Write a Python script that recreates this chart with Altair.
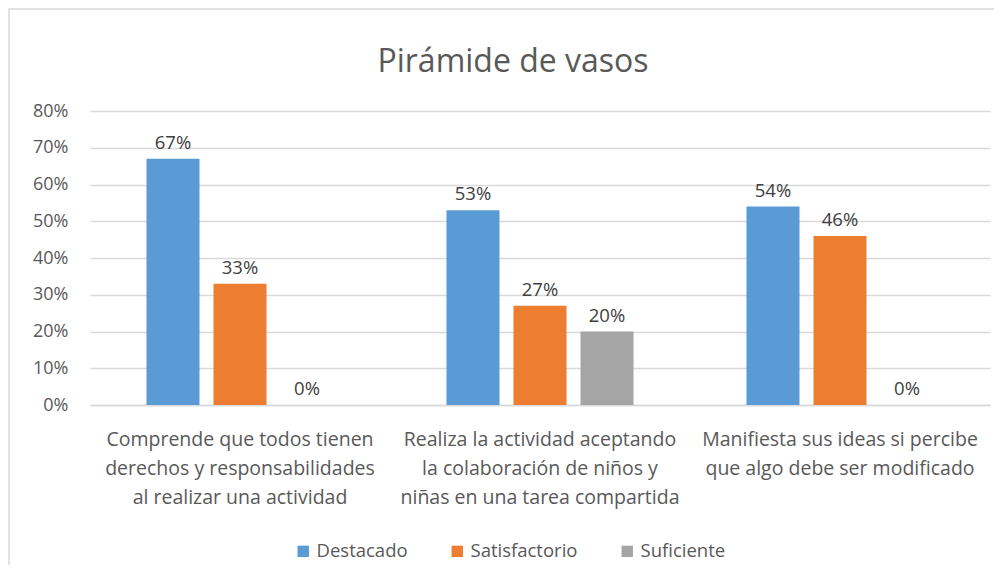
import altair as alt
import pandas as pd

title_text = ["Pirámide de vasos"]
categories = [
    "Comprende que todos tienen|derechos y responsabilidades|al realizar una actividad",
    "Realiza la actividad aceptando|la colaboración de niños y|niñas en una tarea compartida",
    "Manifiesta sus ideas si percibe|que algo debe ser modificado",
]
series = ["Destacado", "Satisfactorio", "Suficiente"]
destacado = [0.67, 0.53, 0.54]
satisfactorio = [0.33, 0.27, 0.46]
suficiente = [0.00, 0.20, 0.00]
y_ticks = [0.0, 0.1, 0.2, 0.3, 0.4, 0.5, 0.6, 0.7, 0.8]
colors = ["#5B9BD5", "#ED7D31", "#A5A5A5"]

rows = []
for i, c in enumerate(categories):
    for s, vals in zip(series, [destacado, satisfactorio, suficiente]):
        rows.append({"cat": c, "serie": s, "valor": vals[i]})
df = pd.DataFrame(rows)

FONT = "Open Sans"
TXT = "#595959"

x = alt.X("cat:N", sort=categories, title=None,
          scale=alt.Scale(paddingInner=0, paddingOuter=0),
          axis=alt.Axis(labelAngle=0, labelExpr="split(datum.label, '|')",
                        labelFontSize=19.5, labelColor=TXT, labelFont=FONT,
                        labelLineHeight=29, labelPadding=25, ticks=False,
                        domainColor="#D9D9D9", domainWidth=1.5, labelLimit=400,
                        labelOverlap=False))
xo = alt.XOffset("serie:N", sort=series,
                 scale=alt.Scale(paddingInner=0.209, paddingOuter=0.843))
y = alt.Y("valor:Q", title=None,
          scale=alt.Scale(domain=[0, 0.8]),
          axis=alt.Axis(format=".0%", values=y_ticks, labelOverlap=False,
                        tickCount=9,
                        labelFontSize=18, labelColor=TXT, labelFont=FONT,
                        labelPadding=22, ticks=False, domain=False,
                        gridColor="#D9D9D9", gridWidth=1.5))
color = alt.Color("serie:N", sort=series,
                  scale=alt.Scale(domain=series, range=colors),
                  legend=alt.Legend(title=None, orient="none", direction="horizontal",
                                    legendX=204, legendY=431, symbolType="square",
                                    symbolSize=130, symbolStrokeWidth=0,
                                    labelFontSize=18.5, labelColor=TXT, labelFont=FONT,
                                    columnPadding=40, labelOffset=4))

border = alt.Chart(pd.DataFrame({"a": [0]})).mark_rect(
    fill="transparent", stroke="#D9D9D9", strokeWidth=1.5
).encode(x=alt.value(-81), x2=alt.value(1000), y=alt.value(-102), y2=alt.value(600))

title = alt.Chart(pd.DataFrame({"t": title_text})).mark_text(
    fontSize=32, font=FONT, color=TXT, baseline="middle", align="center"
).encode(x=alt.value(423), y=alt.value(-49), text="t:N")

bars = alt.Chart(df).mark_bar().encode(x=x, xOffset=xo, y=y, color=color)
labels = alt.Chart(df).mark_text(dy=-16, fontSize=18.5, color="#404040", font=FONT).encode(
    x=x, xOffset=xo, y=y, text=alt.Text("valor:Q", format=".0%"))

chart = alt.layer(border, title, bars, labels).properties(
    width=900, height=294,
    autosize=alt.AutoSizeParams(type="none"),
    padding={"left": 82, "top": 103, "right": 4, "bottom": 160},
).configure(background="white").configure_view(stroke=None)

chart.save("out.html", embed_options={"renderer": "svg", "actions": False})
